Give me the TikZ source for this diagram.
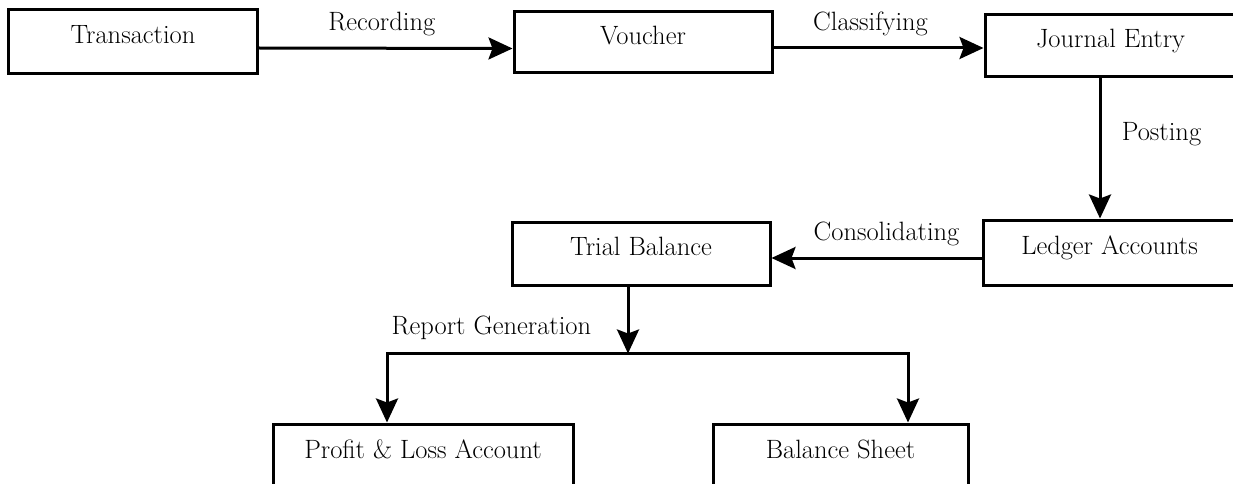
\documentclass[tikz,border=0pt]{standalone}
\usetikzlibrary{arrows.meta}
\tikzstyle{line} = [draw, line width=3pt, -{Stealth[length=24pt, width=22pt, inset=4pt]}]
\tikzstyle{stage} = [rectangle, draw, line width=3pt, minimum height=63pt, text height=18pt, text depth=14pt, text centered, font=\fontsize{26.5}{30}\selectfont]
\tikzstyle{lbl} = [font=\fontsize{26.5}{30}\selectfont]
\begin{document}
\begin{tikzpicture}[x=1pt, y=-1pt]
\useasboundingbox (0,0) rectangle (1233,484);
\clip (0,0) rectangle (1233,484);

\node [stage, minimum width=249pt, minimum height=64pt] (trans) at (133,42) {Transaction};
\node [stage, right of=trans, node distance=510pt, minimum width=258pt, minimum height=61pt, yshift=-0.5pt] (voucher) {Voucher};
\node [stage, right of=voucher, node distance=467.5pt, minimum width=251pt, minimum height=62pt, yshift=-3.5pt] (journal) {Journal Entry};
\node [stage, below of=journal, node distance=206.5pt, minimum width=253pt, minimum height=65pt, xshift=-1pt] (ledger) {Ledger Accounts};
\node [stage, left of=ledger, node distance=468.5pt, minimum width=258pt, yshift=-1pt] (trial) {Trial Balance};
\node [stage, below of=trial, node distance=202.5pt, minimum width=300pt, minimum height=64pt, xshift=-218pt] (profit) {Profit \& Loss Account};
\node [stage, right of=profit, node distance=417.5pt, minimum width=255pt, minimum height=64pt] (balance) {Balance Sheet};

\path [line] ([yshift=-6pt]trans.east) -- ([yshift=-6pt]voucher.west) node [lbl, midway, above=7.5pt, xshift=-4pt] (rec) {Recording};
\path [line] ([yshift=-5.5pt]voucher.east) -- ([yshift=-5.5pt]voucher.east -| journal.west) node [lbl, midway, above=7.5pt, xshift=-8pt] (cls) {Classifying};
\path [line] ([xshift=-10.5pt]journal.south) -- ([xshift=-10.5pt]journal.south |- ledger.north) node [lbl, pos=0.4, right=17pt] (post) {Posting};
\path [line] ([yshift=-5.5pt]ledger.west) -- ([yshift=-5.5pt]ledger.west -| trial.east) node [lbl, midway, above=7.5pt, xshift=10pt] (cons) {Consolidating};

\coordinate [below of=trial, node distance=100pt, xshift=-13pt] (split);
\path [line] ([xshift=-13pt]trial.south) -- (split) node [lbl, pos=0.62, left=32pt] (rep) {Report Generation};
\path [line] (split) -| ([xshift=-36pt]profit.north);
\path [line] (split) -| ([xshift=67.5pt]balance.north);
\end{tikzpicture}
\end{document}
